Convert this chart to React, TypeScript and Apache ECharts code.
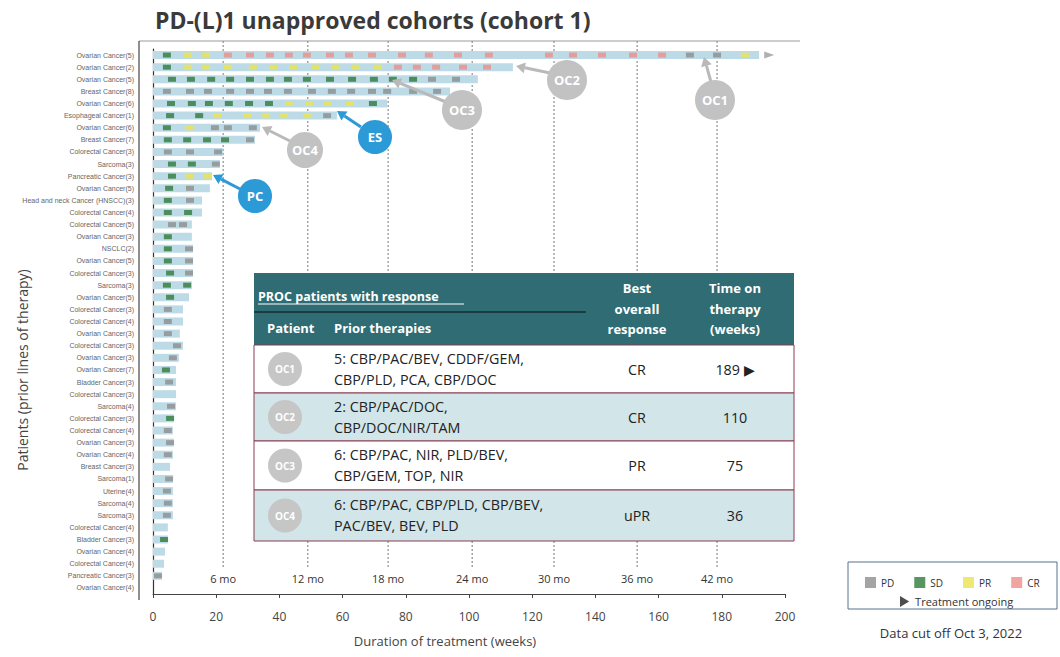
import React, { useEffect, useRef } from 'react';
import * as echarts from 'echarts';

const rowLabels = [
  'Ovarian Cancer(5)', 'Ovarian Cancer(2)', 'Ovarian Cancer(5)', 'Breast Cancer(8)', 'Ovarian Cancer(6)',
  'Esophageal Cancer(1)', 'Ovarian Cancer(6)', 'Breast Cancer(7)', 'Colorectal Cancer(3)', 'Sarcoma(3)',
  'Pancreatic Cancer(3)', 'Ovarian Cancer(5)', 'Head and neck Cancer (HNSCC)(3)', 'Colorectal Cancer(4)', 'Colorectal Cancer(5)',
  'Ovarian Cancer(3)', 'NSCLC(2)', 'Ovarian Cancer(5)', 'Colorectal Cancer(3)', 'Sarcoma(3)',
  'Ovarian Cancer(5)', 'Colorectal Cancer(3)', 'Colorectal Cancer(4)', 'Ovarian Cancer(3)', 'Colorectal Cancer(3)',
  'Ovarian Cancer(3)', 'Ovarian Cancer(7)', 'Bladder Cancer(3)', 'Colorectal Cancer(3)', 'Sarcoma(4)',
  'Colorectal Cancer(3)', 'Colorectal Cancer(4)', 'Ovarian Cancer(3)', 'Ovarian Cancer(4)', 'Breast Cancer(3)',
  'Sarcoma(1)', 'Uterine(4)', 'Sarcoma(4)', 'Sarcoma(3)', 'Colorectal Cancer(4)',
  'Bladder Cancer(3)', 'Ovarian Cancer(4)', 'Colorectal Cancer(4)', 'Pancreatic Cancer(3)', 'Ovarian Cancer(4)'
];

const durations = [
  191.8, 113.9, 102.8, 94, 74.1, 58.2, 33.9, 32.3, 22.2, 21.2,
  18.7, 18, 15.5, 15.5, 12.3, 12.3, 12.7, 12.7, 12.7, 12.3,
  11.4, 9.5, 9.5, 8.5, 9.5, 8.2, 7.3, 7.3, 7.3, 7.3,
  6.6, 6.3, 6.6, 6.3, 5.4, 6.3, 6.3, 6.3, 6.3, 4.7,
  4.7, 3.8, 3.5, 2.8, 0
];

// response assessments per patient row: [week, status]
const assessments: [number, string][][] = [
  [[4.4, 'SD'], [11.1, 'PR'], [16.8, 'PR'], [23.7, 'CR'], [30.7, 'CR'], [37, 'CR'], [43, 'CR'], [48.7, 'CR'], [56, 'CR'], [62, 'CR'], [69.3, 'CR'], [78.8, 'CR'], [87.3, 'CR'], [96.5, 'CR'], [106.3, 'CR'], [125.3, 'CR'], [132.9, 'CR'], [142.1, 'CR'], [151.9, 'CR'], [161.1, 'CR'], [169.9, 'PD'], [178.5, 'PD'], [187.3, 'PR']],
  [[4.4, 'SD'], [11.1, 'PR'], [16.8, 'PR'], [23.7, 'PR'], [31.6, 'PR'], [38, 'PR'], [44.3, 'PR'], [51.3, 'PR'], [57.6, 'PR'], [64.2, 'PR'], [71.2, 'PR'], [77.5, 'CR'], [83.5, 'CR'], [89.6, 'CR'], [98.1, 'CR'], [105.7, 'CR']],
  [[6, 'SD'], [12, 'SD'], [18.4, 'SD'], [24.4, 'SD'], [30.7, 'SD'], [37, 'SD'], [42.7, 'SD'], [48.7, 'SD'], [56, 'SD'], [63, 'SD'], [69.9, 'SD'], [75.9, 'SD'], [82.3, 'SD'], [88.3, 'PD'], [95.9, 'PD']],
  [[4.4, 'PD'], [11.7, 'PD'], [17.4, 'PD'], [24.4, 'PD'], [30.7, 'PD'], [36.4, 'PD'], [42.7, 'PD'], [50.3, 'PD'], [56.6, 'PD'], [62.7, 'PD'], [69.3, 'PD'], [74.1, 'PD'], [82.3, 'PD'], [89.9, 'PD']],
  [[5.7, 'SD'], [12.3, 'SD'], [17.7, 'SD'], [24, 'SD'], [30.4, 'SD'], [36.7, 'SD'], [43, 'PR'], [49.4, 'PR'], [55.4, 'PR'], [62.3, 'PR'], [69.6, 'SD']],
  [[5.4, 'SD'], [14.6, 'SD'], [20.3, 'PR'], [29.7, 'PR'], [35.8, 'PR'], [41.5, 'PR'], [48.7, 'PR'], [55.1, 'PD']],
  [[4.4, 'SD'], [11.7, 'PR'], [19.6, 'PD'], [23.7, 'PD'], [31.6, 'PD']],
  [[4.7, 'SD'], [10.8, 'SD'], [17.1, 'SD'], [22.8, 'SD'], [30.7, 'PD']],
  [[4.7, 'PD'], [11.7, 'PD'], [20.6, 'PD']],
  [[6, 'SD'], [12.3, 'SD'], [19.9, 'PD']],
  [[6, 'SD'], [11.7, 'PR'], [17.4, 'PR']],
  [[5.1, 'SD'], [11.7, 'PD']],
  [[4.7, 'SD'], [11.7, 'PD']],
  [[4.7, 'SD'], [11.1, 'SD']],
  [[6, 'PD'], [9.5, 'PD']],
  [[4.7, 'SD']],
  [[4.7, 'SD'], [11.4, 'PD']],
  [[4.7, 'SD'], [11.4, 'PD']],
  [[5.4, 'SD'], [11.4, 'PD']],
  [[4.4, 'SD'], [10.8, 'SD']],
  [[5.4, 'SD']],
  [[4.7, 'PD']],
  [[4.7, 'PD']],
  [[4.7, 'PD']],
  [[7.6, 'PD']],
  [[6.3, 'PD']],
  [[4.1, 'SD']],
  [[5.1, 'PD']],
  [],
  [[5.7, 'PD']],
  [[5.4, 'SD']],
  [[4.7, 'PD']],
  [[5.4, 'PD']],
  [[4.7, 'PD']],
  [],
  [[5.1, 'PD']],
  [[4.4, 'PD']],
  [[4.7, 'PD']],
  [[4.4, 'PD']],
  [],
  [[3.5, 'SD']],
  [],
  [],
  [[1.6, 'PD']],
  []
];

const ongoingPoints = [[195, 0]];
const statuses = ['PD', 'SD', 'PR', 'CR'];
const statusColors: Record<string, string> = { PD: '#8d8d8d', SD: '#2e7b38', PR: '#ebe34d', CR: '#ec8e8a' };

const monthWeeks = [22.2, 49, 74.4, 101, 126.9, 153.2, 178.5];
const monthLabels = ['6 mo', '12 mo', '18 mo', '24 mo', '30 mo', '36 mo', '42 mo'];

const xTicks = { min: 0, max: 200, interval: 20 };

const tablePatients = ['OC1', 'OC2', 'OC3', 'OC4'];
const tablePrior = [
  ['5: CBP/PAC/BEV, CDDF/GEM,', 'CBP/PLD, PCA, CBP/DOC'],
  ['2: CBP/PAC/DOC,', 'CBP/DOC/NIR/TAM'],
  ['6: CBP/PAC, NIR, PLD/BEV,', 'CBP/GEM, TOP, NIR'],
  ['6: CBP/PAC, CBP/PLD, CBP/BEV,', 'PAC/BEV, BEV, PLD']
];
const tableBOR = ['CR', 'CR', 'PR', 'uPR'];
const tableTime = ['189 \u25B6', '110', '75', '36'];

const FONT = "'Open Sans', 'Noto Sans', sans-serif";

function arrow(x1: number, y1: number, x2: number, y2: number, color: string) {
  const ang = Math.atan2(y2 - y1, x2 - x1);
  const L = 9, W = 5.5;
  const bx = x2 - L * Math.cos(ang), by = y2 - L * Math.sin(ang);
  const px = -Math.sin(ang), py = Math.cos(ang);
  return [
    { type: 'line', z: 50, shape: { x1, y1, x2: bx, y2: by }, style: { stroke: color, lineWidth: 3 } },
    { type: 'polygon', z: 50, shape: { points: [[x2, y2], [bx + px * W, by + py * W], [bx - px * W, by - py * W]] }, style: { fill: color } }
  ];
}

function bubble(cx: number, cy: number, r: number, fill: string, label: string, fs: number) {
  return [
    { type: 'circle', z: 51, shape: { cx, cy, r }, style: { fill } },
    { type: 'text', z: 52, x: cx, y: cy, style: { text: label, fill: '#fff', font: `bold ${fs}px ${FONT}`, align: 'center', verticalAlign: 'middle', textAlign: 'center', textVerticalAlign: 'middle' } }
  ];
}

function txt(x: number, y: number, text: string, font: string, fill: string, align = 'left') {
  return { type: 'text', z: 110, x, y, style: { text, font, fill, align, verticalAlign: 'middle', textAlign: align, textVerticalAlign: 'middle' } };
}

function buildTable() {
  const L = 254, R = 794, T = 273, HB = 345;
  const rowEdges = [345, 393, 441, 490, 541];
  const els: any[] = [];
  els.push({ type: 'rect', z: 100, shape: { x: L, y: T, width: R - L, height: HB - T }, style: { fill: '#2f6c73' } });
  for (let i = 0; i < 4; i++) {
    els.push({ type: 'rect', z: 100, shape: { x: L, y: rowEdges[i], width: R - L, height: rowEdges[i + 1] - rowEdges[i] }, style: { fill: i % 2 === 0 ? '#ffffff' : '#d2e5e8', stroke: '#8a3d50', lineWidth: 1 } });
  }
  const hf = `bold 13px ${FONT}`;
  els.push(txt(258, 296, 'PROC patients with response', `bold 12.5px ${FONT}`, '#fff'));
  els.push({ type: 'line', z: 110, shape: { x1: 258, y1: 304, x2: 464, y2: 304 }, style: { stroke: '#fff', lineWidth: 1 } });
  els.push({ type: 'line', z: 110, shape: { x1: 254, y1: 312, x2: 586, y2: 312 }, style: { stroke: '#1d3c40', lineWidth: 2 } });
  els.push(txt(267, 328, 'Patient', hf, '#fff'));
  els.push(txt(334, 328, 'Prior therapies', hf, '#fff'));
  ['Best', 'overall', 'response'].forEach((s, k) => els.push(txt(637, 288 + k * 20.5, s, hf, '#fff', 'center')));
  ['Time on', 'therapy', '(weeks)'].forEach((s, k) => els.push(txt(735, 288 + k * 20.5, s, hf, '#fff', 'center')));
  const bf = `14.3px ${FONT}`;
  for (let i = 0; i < 4; i++) {
    const top = rowEdges[i], bot = rowEdges[i + 1];
    const cy = (top + bot) / 2;
    els.push({ type: 'circle', z: 105, shape: { cx: 285, cy, r: 17 }, style: { fill: '#c6c6c6' } });
    els.push(txt(285, cy, tablePatients[i], `bold 10px ${FONT}`, '#fff', 'center'));
    els.push(txt(334, cy - 11, tablePrior[i][0], bf, '#222'));
    els.push(txt(334, cy + 10, tablePrior[i][1], bf, '#222'));
    els.push(txt(637, cy, tableBOR[i], bf, '#222', 'center'));
    els.push(txt(735, cy, tableTime[i], bf, '#222', 'center'));
  }
  return els;
}

export default function App() {
  const ref = useRef<HTMLDivElement>(null);
  useEffect(() => {
    if (!ref.current) return;
    const chart = echarts.init(ref.current, null, { renderer: 'svg' });

    const markerSeries = statuses.map((st) => ({
      name: st,
      type: 'scatter',
      symbol: 'rect',
      symbolSize: [8, 5],
      z: 4,
      silent: true,
      itemStyle: { color: statusColors[st] },
      data: assessments.flatMap((row, ri) => row.filter((a) => a[1] === st).map((a) => [a[0], ri]))
    }));

    const graphics: any[] = [
      { type: 'line', z: 10, shape: { x1: 139, y1: 41, x2: 800, y2: 41 }, style: { stroke: '#9a9a9a', lineWidth: 1 } },
      { type: 'line', z: 10, shape: { x1: 139, y1: 41, x2: 139, y2: 600 }, style: { stroke: '#444', lineWidth: 1.2 } },
      { type: 'text', z: 10, x: 22, y: 370, rotation: Math.PI / 2, style: { text: 'Patients (prior lines of therapy)', font: `14px ${FONT}`, fill: '#444', align: 'center', verticalAlign: 'middle', textAlign: 'center', textVerticalAlign: 'middle' } },
      ...arrow(711, 82, 704, 57, '#b9b9b9'),
      ...arrow(550, 73, 516, 66, '#b9b9b9'),
      ...arrow(446, 102, 392, 80, '#b9b9b9'),
      ...arrow(290, 141, 262, 127, '#b9b9b9'),
      ...arrow(361, 127, 337, 111, '#2b9ad6'),
      ...arrow(240, 189, 213, 175, '#2b9ad6'),
      ...bubble(715, 100, 20, '#c2c2c2', 'OC1', 13),
      ...bubble(567, 80, 20, '#c2c2c2', 'OC2', 13),
      ...bubble(462, 110, 20, '#c2c2c2', 'OC3', 13),
      ...bubble(305, 150, 18, '#c2c2c2', 'OC4', 13),
      ...bubble(375, 137, 17, '#2b9ad6', 'ES', 13),
      ...bubble(255, 196, 17, '#2b9ad6', 'PC', 13),
      ...buildTable(),
      { type: 'rect', z: 10, shape: { x: 848, y: 562, width: 209, height: 47 }, style: { fill: 'none', stroke: '#56708f', lineWidth: 1 } },
      { type: 'text', z: 10, x: 951, y: 633, style: { text: 'Data cut off Oct 3, 2022', font: `13px ${FONT}`, fill: '#333', align: 'center', verticalAlign: 'middle', textAlign: 'center', textVerticalAlign: 'middle' } }
    ];

    chart.setOption({
      animation: false,
      title: {
        text: 'PD-(L)1 unapproved cohorts (cohort 1)',
        left: 150, top: 3,
        textStyle: { fontFamily: FONT, fontSize: 23, fontWeight: 'bold', color: '#3a3a3a' }
      },
      legend: [
        {
          data: statuses.map((s) => ({ name: s, icon: 'rect' })),
          left: 860, top: 572, itemWidth: 11, itemHeight: 11, itemGap: 20,
          selectedMode: false,
          textStyle: { fontFamily: FONT, fontSize: 10, color: '#333' }
        },
        {
          data: [{ name: 'Treatment ongoing', icon: 'path://M0,0L10,6L0,12Z', itemStyle: { color: '#222' } }],
          left: 895, top: 591, itemWidth: 11, itemHeight: 11,
          selectedMode: false,
          textStyle: { fontFamily: FONT, fontSize: 11, color: '#333' }
        }
      ],
      grid: { left: 153, right: 275, top: 49, bottom: 63, containLabel: false },
      xAxis: {
        type: 'value', min: xTicks.min, max: xTicks.max, interval: xTicks.interval,
        axisLine: { show: true, lineStyle: { color: '#444' } },
        axisTick: { show: true, length: 4, lineStyle: { color: '#444' } },
        splitLine: { show: false },
        axisLabel: { fontFamily: FONT, fontSize: 12, color: '#444', margin: 16 },
        name: 'Duration of treatment (weeks)', nameLocation: 'middle', nameGap: 40,
        nameTextStyle: { fontFamily: FONT, fontSize: 13, color: '#444', padding: [0, 48, 0, 0] }
      },
      yAxis: {
        type: 'category', data: rowLabels, inverse: true,
        axisLine: { show: true, lineStyle: { color: '#333', width: 1.2 } },
        axisTick: { show: false },
        axisLabel: { interval: 0, fontFamily: "'Liberation Sans', sans-serif", fontSize: 7, color: '#666', margin: 19 }
      },
      series: [
        {
          name: 'Duration', type: 'bar', data: durations, barWidth: 8, silent: true, z: 2,
          itemStyle: { color: '#bddbe6' }
        },
        ...markerSeries,
        {
          name: 'Treatment ongoing', type: 'scatter', data: ongoingPoints, symbol: 'triangle', symbolRotate: -90,
          symbolSize: [7, 10], z: 4, silent: true, itemStyle: { color: '#9c9c9c' }
        },
        {
          name: 'Months', type: 'custom', data: monthWeeks.map((w) => [w]), z: 1, silent: true,
          renderItem: (params: any, api: any) => {
            const x = api.coord([api.value(0), 0])[0];
            const cs = params.coordSys;
            return {
              type: 'group',
              children: [
                { type: 'line', shape: { x1: x, y1: cs.y - 8, x2: x, y2: cs.y + cs.height - 27 }, style: { stroke: '#777', lineWidth: 1, lineDash: [2, 2] } },
                { type: 'text', x, y: cs.y + cs.height - 16, style: { text: monthLabels[params.dataIndex], fill: '#333', font: `11px ${FONT}`, align: 'center', verticalAlign: 'middle' } }
              ]
            };
          }
        }
      ],
      graphic: { elements: graphics }
    });
    return () => chart.dispose();
  }, []);
  return <div ref={ref} style={{ position: 'fixed', left: 0, top: 0, width: 1060, height: 657, background: '#fff' }} />;
}
